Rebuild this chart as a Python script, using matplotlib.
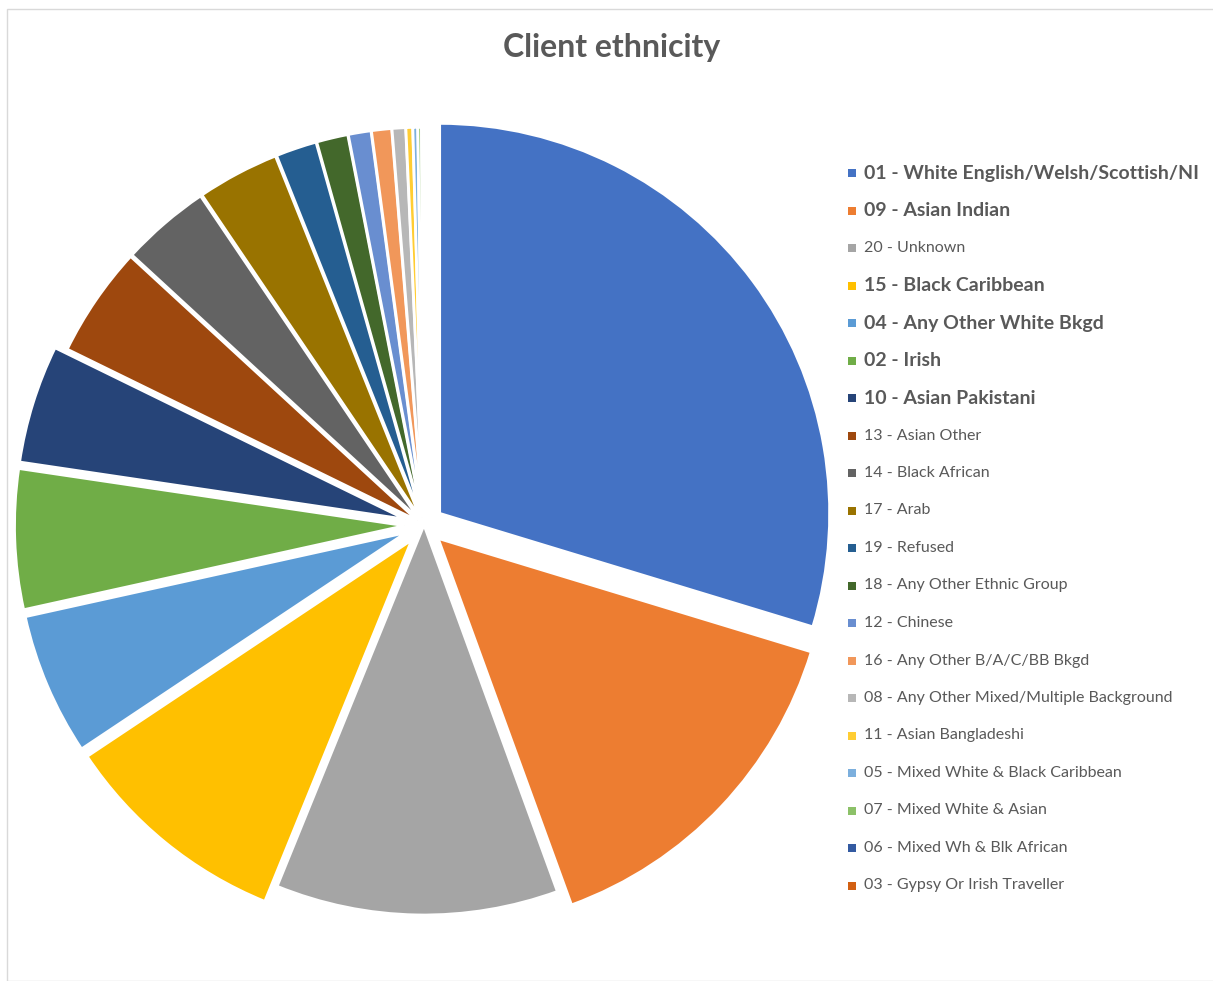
import matplotlib
matplotlib.use("Agg")
import matplotlib.pyplot as plt
from matplotlib.patches import Rectangle

plt.rcParams['font.family'] = ['Lato', 'DejaVu Sans']

labels = ['01 - White English/Welsh/Scottish/NI', '09 - Asian Indian', '20 - Unknown',
          '15 - Black Caribbean', '04 - Any Other White Bkgd', '02 - Irish',
          '10 - Asian Pakistani', '13 - Asian Other', '14 - Black African', '17 - Arab',
          '19 - Refused', '18 - Any Other Ethnic Group', '12 - Chinese',
          '16 - Any Other B/A/C/BB Bkgd', '08 - Any Other Mixed/Multiple Background',
          '11 - Asian Bangladeshi', '05 - Mixed White & Black Caribbean',
          '07 - Mixed White & Asian', '06 - Mixed Wh & Blk African',
          '03 - Gypsy Or Irish Traveller']
values = [29.7, 14.75, 11.7, 9.5, 5.9, 5.8, 4.9, 4.6, 3.7, 3.4,
          1.7, 1.3, 0.94, 0.83, 0.56, 0.28, 0.2, 0.15, 0.05, 0.05]
highlighted = ['01', '09', '15', '04', '02', '10']

colors = ['#4472C4', '#ED7D31', '#A5A5A5', '#FFC000', '#5B9BD5', '#70AD47',
          '#264478', '#9E480E', '#636363', '#997300', '#255E91', '#43682B',
          '#698ED0', '#F1975A', '#B7B7B7', '#FFCD33', '#7CAFDD', '#8CC168',
          '#335AA1', '#D26012']

W, H = 1213, 981
fig = plt.figure(figsize=(W / 100, H / 100), dpi=100)
fig.patches.append(Rectangle((7 / W, 0), 1, 1 - 9 / H, transform=fig.transFigure,
                             fill=False, edgecolor='#D9D9D9', linewidth=1))

# pie centre (424, 525) px, radius 390 px
cx, cy, r = 424, 525, 390
ax = fig.add_axes([(cx - r) / W, (H - cy - r) / H, 2 * r / W, 2 * r / H])
explode = []
for l in labels:
    if l[:2] in highlighted:
        explode.append(0.05)
    elif l[:2] == '20':
        explode.append(0.0)
    else:
        explode.append(0.02)
wedges, _ = ax.pie(values, colors=colors, startangle=90, counterclock=False,
                   explode=explode, radius=1,
                   wedgeprops=dict(edgecolor='white', linewidth=2))
for w in wedges:
    w.set_clip_on(False)
ax.set_xlim(-1, 1)
ax.set_ylim(-1, 1)
ax.set_aspect('equal')
ax.axis('off')

fig.text(612 / W, 1 - 47 / H, 'Client ethnicity', ha='center', va='center',
         fontsize=23, fontweight='bold', color='#595959')

# legend
y0, dy = 173, 37.5
for i, (lab, col) in enumerate(zip(labels, colors)):
    y = y0 + i * dy
    fig.patches.append(Rectangle((848 / W, 1 - (y + 4) / H), 8 / W, 8 / H,
                                 transform=fig.transFigure, facecolor=col,
                                 edgecolor='none'))
    bold = lab[:2] in highlighted
    fig.text(864 / W, 1 - y / H, lab, ha='left', va='center',
             fontsize=14 if bold else 11.5,
             fontweight='bold' if bold else 'normal', color='#595959')

fig.savefig('out.png', dpi=100)
